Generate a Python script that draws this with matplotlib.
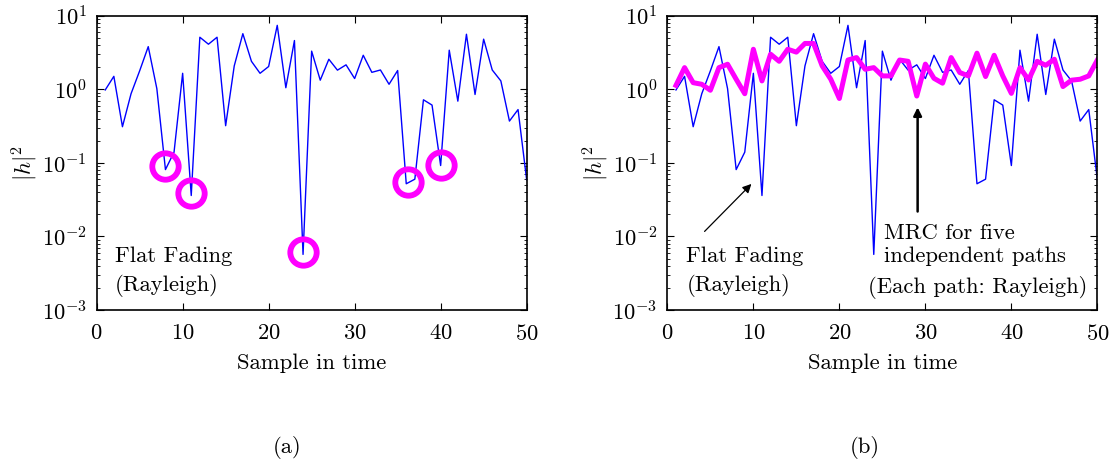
import matplotlib
matplotlib.use("Agg")
import matplotlib.pyplot as plt
import numpy as np

# |h|^2 of a single Rayleigh flat-fading path, samples 1..50
samples = np.arange(1, 51)
rayleigh_gain = [
    0.98, 1.5, 0.31, 0.87, 1.78, 3.8, 1.02, 0.081, 0.14, 1.65,
    0.036, 5.1, 4.1, 5.1, 0.32, 2.08, 5.7, 2.4, 1.65, 2.04,
    7.4, 1.05, 4.6, 0.0057, 3.3, 1.33, 2.56, 1.82, 2.15, 1.40,
    2.9, 1.7, 1.83, 1.17, 1.8, 0.052, 0.06, 0.72, 0.61, 0.092,
    3.4, 0.69, 5.6, 0.85, 4.8, 1.83, 1.3, 0.37, 0.53, 0.059,
]

# MRC gain over five independent Rayleigh paths
mrc_gain = [
    1.13, 1.97, 1.23, 1.17, 0.97, 1.97, 2.19, 1.37, 0.87, 3.5,
    1.3, 3.0, 2.4, 3.5, 3.2, 4.2, 4.2, 2.08, 1.37, 0.75,
    2.5, 2.7, 1.87, 1.97, 1.52, 1.52, 2.5, 2.4, 0.81, 2.2,
    1.41, 1.21, 2.7, 1.69, 1.52, 3.1, 1.49, 2.9, 1.52, 0.88,
    1.97, 1.34, 2.4, 2.12, 2.56, 1.09, 1.33, 1.37, 1.52, 2.5,
]

# deep fades highlighted in panel (a)
fade_x = [8, 11, 24, 36.2, 40]
fade_y = [0.092, 0.039, 0.0062, 0.055, 0.095]

plt.rcParams["font.family"] = "serif"
plt.rcParams["font.serif"] = ["cmr10", "DejaVu Serif"]
plt.rcParams["mathtext.fontset"] = "cm"
plt.rcParams["axes.formatter.use_mathtext"] = True
plt.rcParams["font.size"] = 16.3

fig = plt.figure(figsize=(11.16, 4.65), dpi=100)
ax_a = fig.add_axes([0.0866, 0.3333, 0.3853, 0.6329])
ax_b = fig.add_axes([0.598, 0.3333, 0.3853, 0.6329])


def style_axes(ax):
    ax.set_yscale("log")
    ax.set_xlim(0, 50)
    ax.set_ylim(1e-3, 1e1)
    ax.set_xticks([0, 10, 20, 30, 40, 50])
    ax.set_yticks([1e-3, 1e-2, 1e-1, 1e0, 1e1])
    ax.tick_params(which="both", direction="in", top=True, right=True)
    ax.tick_params(which="major", length=5, width=0.8)
    ax.tick_params(which="minor", length=2.5, width=0.6)
    ax.tick_params(axis="y", which="major", pad=7)
    ax.tick_params(axis="x", which="major", pad=10)
    for sp in ax.spines.values():
        sp.set_linewidth(1.2)
    ax.set_xlabel("Sample in time", labelpad=7)
    ax.set_ylabel(r"$|h|^2$", labelpad=1)


# (a) single path with deep fades circled
ax_a.plot(samples, rayleigh_gain, color="#0000ff", lw=1.0)
ax_a.plot(fade_x, fade_y, "o", mfc="none", mec="#ff00ff", ms=19, mew=4.2)
ax_a.text(2.1, 0.0033, "Flat Fading\n(Rayleigh)", ha="left", va="center",
          linespacing=1.5)
style_axes(ax_a)

# (b) single path vs. MRC combining
ax_b.plot(samples, rayleigh_gain, color="#0000ff", lw=1.0)
ax_b.plot(samples, mrc_gain, color="#ff00ff", lw=3.6)
ax_b.annotate("", xy=(10, 0.055), xytext=(4.1, 0.011),
              arrowprops=dict(arrowstyle="-|>", color="k", lw=0.9,
                              mutation_scale=13))
ax_b.text(2.2, 0.0033, "Flat Fading\n(Rayleigh)", ha="left", va="center",
          linespacing=1.5)
ax_b.annotate("", xy=(29.1, 0.62), xytext=(29.1, 0.02),
              arrowprops=dict(arrowstyle="-|>", color="k", lw=1.8,
                              mutation_scale=12))
ax_b.text(25.2, 0.0077, "MRC for five\nindependent paths", ha="left",
          va="center", linespacing=1.25)
ax_b.text(23.3, 0.0020, "(Each path: Rayleigh)", ha="left", va="center")
style_axes(ax_b)

fig.text(0.257, 0.038, "(a)", ha="center", va="center")
fig.text(0.775, 0.038, "(b)", ha="center", va="center")

fig.savefig("out.png", dpi=100)
